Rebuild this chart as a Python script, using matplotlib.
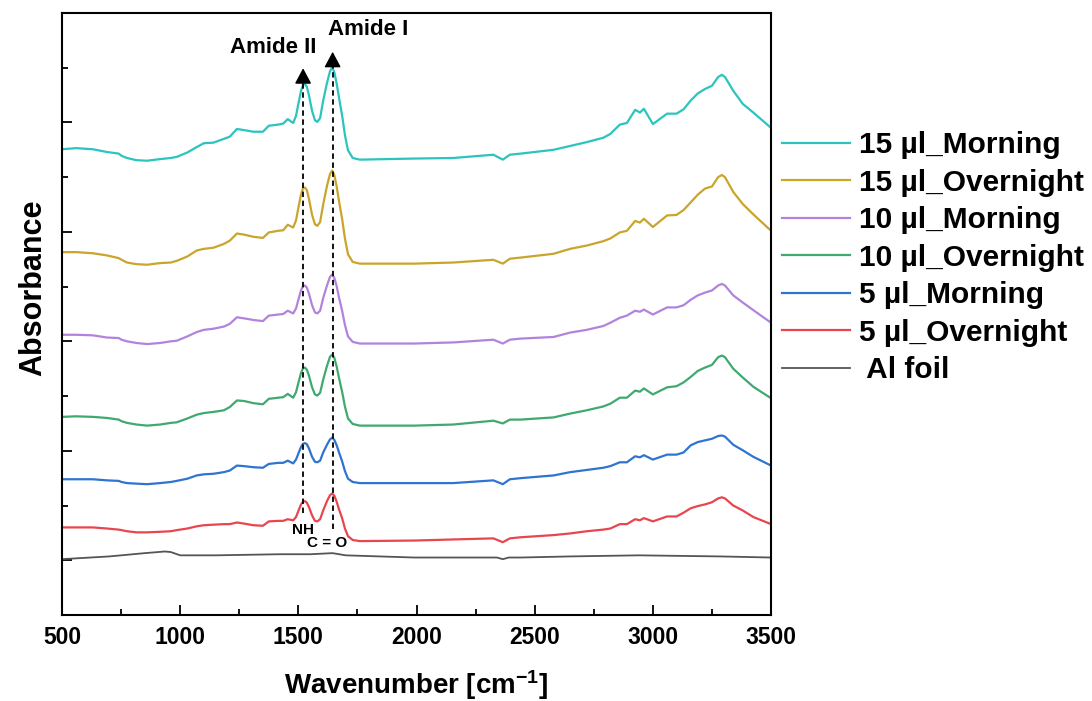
import matplotlib
matplotlib.use("Agg")
import matplotlib.pyplot as plt
from matplotlib.ticker import MultipleLocator, NullFormatter

plt.rcParams['font.family'] = ['Liberation Sans', 'DejaVu Sans']
plt.rcParams['font.weight'] = 'bold'
plt.rcParams['mathtext.fontset'] = 'custom'
plt.rcParams['mathtext.rm'] = 'Liberation Sans:bold'
plt.rcParams['mathtext.bf'] = 'Liberation Sans:bold'
plt.rcParams['mathtext.default'] = 'bf'

# wavenumber grid (cm-1)
wavenumber = [500, 560, 630, 690, 740, 752, 775, 815, 860, 915, 960, 985, 1030, 1070,
              1100, 1140, 1185, 1210, 1240, 1270, 1310, 1350, 1375, 1415, 1436, 1455, 1478,
              1490, 1500, 1511, 1520, 1528, 1536, 1545, 1558, 1570, 1580, 1592, 1605,
              1621, 1634, 1643, 1652, 1662, 1672, 1685, 1697, 1710, 1730, 1760,
              1990, 2155, 2325, 2365, 2395, 2440, 2580, 2650, 2720, 2790, 2820, 2860,
              2890, 2925, 2945, 2962, 3000, 3060, 3100, 3130, 3160, 3190, 3220, 3250,
              3276, 3292, 3305, 3340, 3380, 3425, 3500]

# offset absorbance of each sample (a.u.)
ul15_morning = [7.51, 7.53, 7.51, 7.46, 7.43, 7.39, 7.35, 7.31, 7.30, 7.33, 7.35, 7.37, 7.45, 7.55,
                7.62, 7.63, 7.70, 7.74, 7.88, 7.86, 7.83, 7.83, 7.94, 7.96, 7.98, 8.06, 7.99,
                8.12, 8.34, 8.57, 8.69, 8.70, 8.65, 8.49, 8.21, 8.04, 8.01, 8.08, 8.40,
                8.72, 8.94, 9.00, 8.92, 8.71, 8.45, 8.13, 7.77, 7.49, 7.35, 7.32,
                7.34, 7.35, 7.41, 7.32, 7.41, 7.43, 7.50, 7.57, 7.64, 7.72, 7.79, 7.96,
                7.99, 8.23, 8.18, 8.25, 7.97, 8.16, 8.16, 8.24, 8.40, 8.53, 8.61, 8.67,
                8.83, 8.87, 8.83, 8.58, 8.34, 8.18, 7.90]
ul15_overnight = [5.63, 5.63, 5.61, 5.57, 5.52, 5.49, 5.44, 5.41, 5.40, 5.43, 5.44, 5.47, 5.55, 5.66,
                  5.69, 5.71, 5.78, 5.84, 5.97, 5.95, 5.91, 5.89, 5.99, 6.02, 6.03, 6.13, 6.08,
                  6.21, 6.44, 6.68, 6.80, 6.81, 6.76, 6.60, 6.31, 6.14, 6.11, 6.18, 6.50,
                  6.84, 7.06, 7.12, 7.04, 6.83, 6.56, 6.24, 5.88, 5.59, 5.45, 5.42,
                  5.42, 5.44, 5.49, 5.42, 5.51, 5.53, 5.60, 5.69, 5.75, 5.83, 5.88, 5.99,
                  6.02, 6.20, 6.17, 6.24, 6.09, 6.30, 6.31, 6.40, 6.54, 6.68, 6.79, 6.83,
                  7.00, 7.04, 7.00, 6.73, 6.51, 6.32, 6.02]
ul10_morning = [4.12, 4.12, 4.11, 4.07, 4.06, 4.03, 4.00, 3.97, 3.95, 3.97, 4.00, 4.01, 4.09, 4.17,
                4.21, 4.23, 4.27, 4.32, 4.44, 4.42, 4.39, 4.37, 4.47, 4.49, 4.50, 4.56, 4.51,
                4.60, 4.76, 4.93, 5.01, 5.02, 4.98, 4.87, 4.66, 4.53, 4.51, 4.56, 4.79,
                5.02, 5.18, 5.22, 5.16, 5.01, 4.80, 4.56, 4.30, 4.09, 3.99, 3.96,
                3.96, 3.98, 4.03, 3.96, 4.03, 4.05, 4.08, 4.16, 4.21, 4.28, 4.34, 4.43,
                4.47, 4.56, 4.54, 4.58, 4.49, 4.62, 4.62, 4.66, 4.76, 4.84, 4.89, 4.93,
                5.02, 5.05, 5.02, 4.84, 4.71, 4.57, 4.34]
ul10_overnight = [2.62, 2.63, 2.62, 2.60, 2.57, 2.54, 2.51, 2.48, 2.46, 2.48, 2.51, 2.52, 2.59, 2.66,
                  2.69, 2.71, 2.74, 2.80, 2.92, 2.91, 2.87, 2.85, 2.95, 2.97, 2.98, 3.04, 2.97,
                  3.07, 3.24, 3.42, 3.51, 3.52, 3.48, 3.37, 3.16, 3.03, 3.01, 3.06, 3.30,
                  3.55, 3.72, 3.76, 3.70, 3.54, 3.33, 3.08, 2.81, 2.59, 2.49, 2.46,
                  2.46, 2.48, 2.55, 2.50, 2.57, 2.57, 2.61, 2.68, 2.74, 2.81, 2.86, 2.97,
                  2.97, 3.10, 3.08, 3.14, 3.03, 3.16, 3.18, 3.25, 3.35, 3.46, 3.52, 3.57,
                  3.71, 3.74, 3.71, 3.50, 3.34, 3.17, 2.96]
ul5_morning = [1.48, 1.48, 1.48, 1.46, 1.45, 1.43, 1.41, 1.40, 1.39, 1.41, 1.43, 1.45, 1.49, 1.55,
               1.57, 1.58, 1.61, 1.64, 1.73, 1.72, 1.70, 1.69, 1.76, 1.78, 1.78, 1.82, 1.77,
               1.84, 1.95, 2.07, 2.13, 2.14, 2.12, 2.04, 1.89, 1.80, 1.79, 1.82, 1.97,
               2.11, 2.21, 2.24, 2.20, 2.10, 1.97, 1.81, 1.63, 1.49, 1.43, 1.41,
               1.41, 1.41, 1.46, 1.39, 1.48, 1.50, 1.55, 1.61, 1.65, 1.69, 1.72, 1.79,
               1.79, 1.90, 1.88, 1.92, 1.84, 1.93, 1.93, 1.97, 2.10, 2.16, 2.19, 2.22,
               2.27, 2.28, 2.26, 2.11, 2.01, 1.89, 1.73]
ul5_overnight = [0.60, 0.60, 0.60, 0.58, 0.56, 0.55, 0.53, 0.51, 0.51, 0.52, 0.53, 0.55, 0.58, 0.62,
                 0.64, 0.65, 0.66, 0.66, 0.69, 0.67, 0.64, 0.63, 0.71, 0.72, 0.72, 0.75, 0.73,
                 0.79, 0.90, 1.02, 1.07, 1.08, 1.05, 0.97, 0.82, 0.72, 0.71, 0.75, 0.91,
                 1.08, 1.19, 1.22, 1.18, 1.07, 0.93, 0.77, 0.58, 0.44, 0.37, 0.35,
                 0.36, 0.38, 0.40, 0.33, 0.40, 0.42, 0.46, 0.49, 0.53, 0.56, 0.58, 0.66,
                 0.66, 0.75, 0.73, 0.77, 0.71, 0.80, 0.80, 0.87, 0.95, 0.99, 1.02, 1.06,
                 1.13, 1.15, 1.13, 1.00, 0.91, 0.79, 0.66]

foil_wavenumber = [500, 700, 850, 935, 960, 1000, 1150, 1420, 1550, 1645, 1700, 1990, 2155,
                   2340, 2365, 2390, 2440, 2650, 2940, 3285, 3500]
al_foil = [0.02, 0.07, 0.13, 0.16, 0.15, 0.09, 0.09, 0.11, 0.11, 0.13, 0.09, 0.05, 0.05,
           0.05, 0.02, 0.05, 0.05, 0.07, 0.09, 0.07, 0.05]

labels = ['15 µl_Morning', '15 µl_Overnight', '10 µl_Morning', '10 µl_Overnight',
          '5 µl_Morning', '5 µl_Overnight', ' Al foil']
colors = ['#2BC4BE', '#C9A52C', '#B283DC', '#3FA96F', '#2F74D1', '#E8464E', '#555555']

# band positions of the two amide peaks
amide2_pos, amide1_pos = 1520, 1645

fig = plt.figure(figsize=(10.92, 7.01), dpi=100)
ax = fig.add_axes([0.0568, 0.1227, 0.6493, 0.8588])

series = [ul15_morning, ul15_overnight, ul10_morning, ul10_overnight, ul5_morning, ul5_overnight]
for vals, lab, col in zip(series, labels[:6], colors[:6]):
    ax.plot(wavenumber, vals, color=col, lw=1.6, label=lab)
ax.plot(foil_wavenumber, al_foil, color=colors[6], lw=1.3, label=labels[6])

# dashed guide lines with arrow heads
for xpos, y0, y1 in [(amide2_pos, 0.86, 8.75), (amide1_pos, 0.58, 9.05)]:
    ax.plot([xpos, xpos], [y0, y1], color='black', lw=1.3, ls=(0, (3, 2)), zorder=5)
    ax.annotate('', xy=(xpos, y1 + 0.24), xytext=(xpos, y1),
                arrowprops=dict(arrowstyle='-|>,head_length=0.6,head_width=0.32',
                                fc='black', ec='black', lw=1, shrinkA=0, shrinkB=0,
                                mutation_scale=16), zorder=6)

ax.text(1393, 9.36, 'Amide II', ha='center', va='center', fontsize=16, fontweight='bold')
ax.text(1795, 9.69, 'Amide I', ha='center', va='center', fontsize=16, fontweight='bold')
ax.text(1520, 0.55, 'NH', ha='center', va='center', fontsize=11, fontweight='bold')
ax.text(1621, 0.31, 'C = O', ha='center', va='center', fontsize=11, fontweight='bold')

ax.set_xlim(500, 3500)
ax.set_ylim(-1, 10)
ax.xaxis.set_major_locator(MultipleLocator(500))
ax.xaxis.set_minor_locator(MultipleLocator(250))
ax.yaxis.set_major_locator(MultipleLocator(2))
ax.yaxis.set_minor_locator(MultipleLocator(1))
ax.yaxis.set_major_formatter(NullFormatter())
ax.tick_params(axis='both', which='both', direction='in', width=1.3)
ax.tick_params(axis='both', which='major', length=7)
ax.tick_params(axis='both', which='minor', length=4)
ax.tick_params(axis='x', labelsize=16.5, pad=8)
for lbl in ax.get_xticklabels():
    lbl.set_fontweight('bold')
for sp in ax.spines.values():
    sp.set_linewidth(1.5)

ax.set_xlabel('Wavenumber [cm$^{-1}$]', fontsize=20, fontweight='bold', labelpad=14)
ax.set_ylabel('Absorbance', fontsize=22, fontweight='bold')
ax.yaxis.set_label_coords(-0.020, 0.543)

fig.legend(loc='upper left', bbox_to_anchor=(0.716, 0.813), frameon=False,
           prop={'size': 21.5, 'weight': 'bold'}, handlelength=2.27, handletextpad=0.3,
           labelspacing=0.32, borderpad=0, borderaxespad=0)

fig.savefig('out.png', dpi=100)
